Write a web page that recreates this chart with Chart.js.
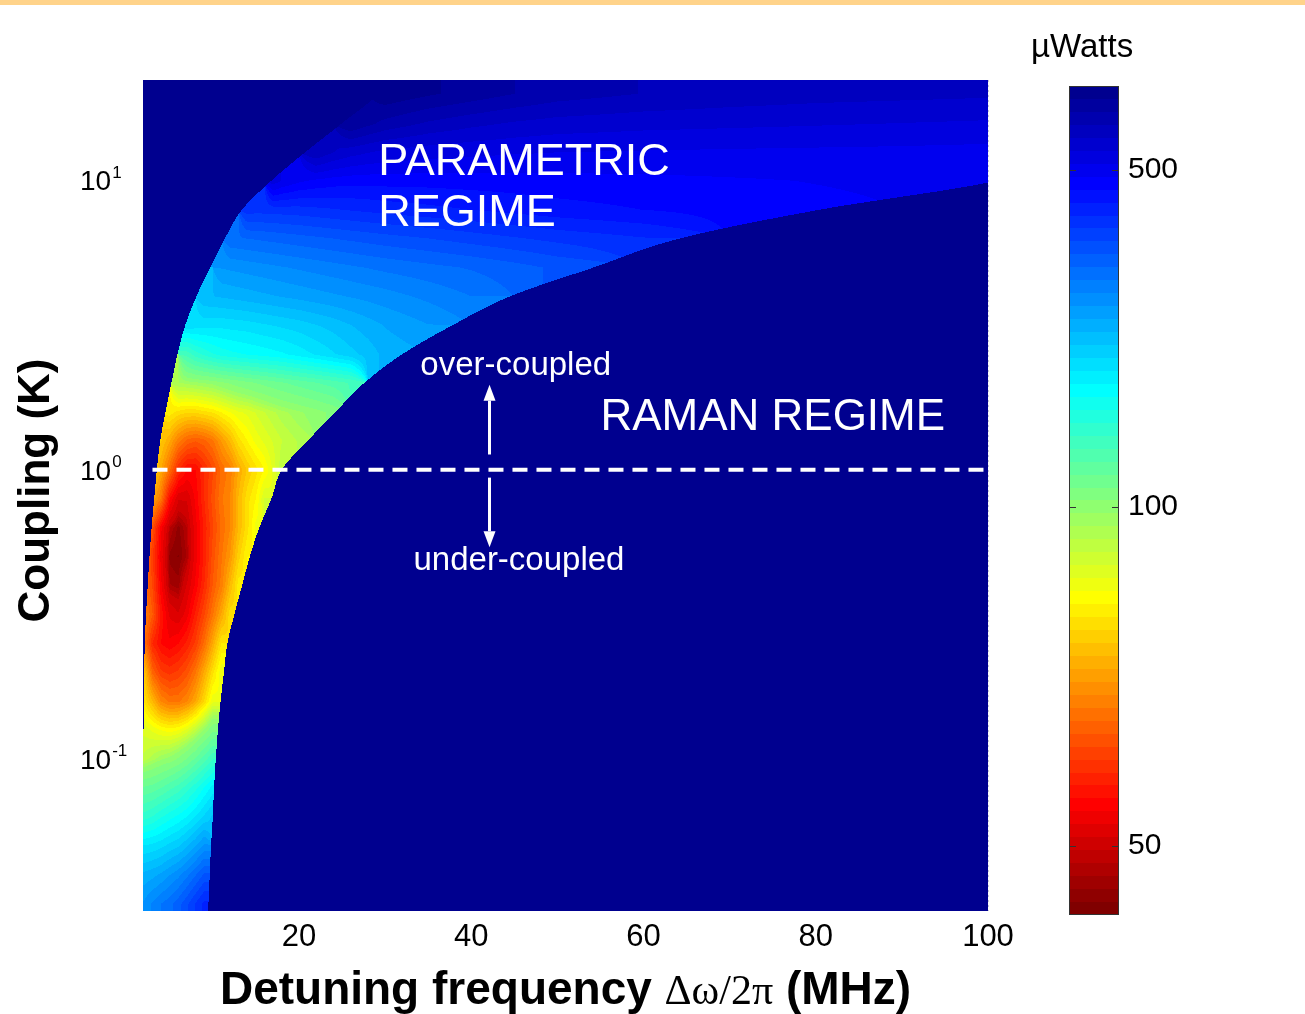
<!DOCTYPE html>
<html>
<head>
<meta charset="utf-8">
<title>Threshold map</title>
<script src="https://cdn.jsdelivr.net/npm/chart.js@4.4.1/dist/chart.umd.min.js"></script>
<style>
  html, body { margin: 0; padding: 0; background: #fff; }
  .page { position: relative; width: 1305px; height: 1014px; overflow: hidden; }
  .strip { position: absolute; left: 0; top: 0; width: 1305px; height: 5px; background: #ffd38a; }
  #map { position: absolute; left: 0; top: 0; }
  #scaleBar { position: absolute; left: 1020px; top: 0; }
</style>
</head>
<body>
<div class="page">
  <canvas id="map" width="1040" height="1014" style="width:1040px;height:1014px"></canvas>
  <canvas id="scaleBar" width="285" height="1014" style="width:285px;height:1014px"></canvas>
  <div class="strip"></div>
</div>
<script>
const SANS = '"Liberation Sans", Arial, sans-serif';
const off = n => Array(n).fill(null);

// grid columns / rows
const detuningMHz = [2,3,4,5,6,7,8,9,10,11,12,13,14,15,16,17,18,20,22,24,26,28,30,35,40,45,50,60,70,80,90,100];
const couplingK = [0.0316,0.0398,0.0501,0.0631,0.0794,0.1,0.126,0.158,0.2,0.251,0.316,0.398,0.501,0.631,0.794,1,1.26,1.58,2,2.51,3.16,3.98,5.01,6.31,7.94,10,12.6,15.8,20];

// threshold power in µW, one row per couplingK, columns follow detuningMHz
// null = off the colour scale (dark blue)
const thresholdMicroW = [
  [264,280,295,306,325,350,380,410],
  [235,240,248,260,272,290,312,338],
  [192,195,200,208,215,228,245,265],
  [145,150,158,165,172,180,192,206,220],
  [118,120,124,130,136,145,156,170,185],
  [92,95,98,100,104,110,118,128,140],
  [88,86,84,83,84,87,92,99,108],
  [80,74,68,66,66,68,72,78,86],
  [76,64,60,59,60,62,66,72,79,86],
  [66,58,55,54,55,57,60,65,72,80],
  [68,63,56,52,51,53,57,61,66,72,79],
  [66,61,54,49,48.7,51,54,58,63,67,74,81],
  [66,60,53,48.3,48,49,53,57,62,66,70,77,82],
  [68,62,54,49.4,48.3,49.4,53,57,61,65,68,74,79,85],
  [null,72,66,55,51,51,54,58,62,66,68,74,79,82,89],
  [null,78,72,65,58,55,55,58,61,65,67,72,76,79,82,87,93],
  [...off(2),76,72,67,64,63,64,66,70,74,79,82,85,87,89,91,94],
  [...off(3),81,79,78,78,79,80,82,84,86,87,89,91,93,95,98,101,105],
  [...off(4),96,97,98,99,100,102,104,106,108,110,112,114,116,120,124,128,133],
  [...off(5),135,145,152,158,163,166,168,170,172,174,176,178,185,193,202,212,222,235],
  [...off(5),200,198,196,195,195,196,197,198,200,202,204,206,210,216,222,230,238,246,260],
  [...off(7),228,230,232,234,236,238,240,242,244,246,250,254,258,262,266,270,282,295],
  [...off(9),262,264,266,268,270,272,274,276,280,284,288,292,296,300,308,316,326,338],
  [...off(10),310,312,314,316,318,320,322,326,330,334,338,342,346,355,365,375,385,400],
  [...off(12),390,388,388,388,390,392,396,400,404,408,412,420,428,436,444,455,465,475],
  [...off(15),540,515,490,478,470,466,465,466,466,468,470,472,475,480,485,490,495],
  [...off(18),640,600,575,560,548,535,528,522,518,515,512,510,508,505],
  [...off(20),740,705,675,635,610,592,580,570,565,560,555,550],
  [...off(22),785,750,720,690,665,640,625,615,610,605]
];

// band edges per couplingK row (MHz): outer (parametric side) and Raman cut-off
const outerEdgeMHz = [1,1,1,1,1,1,1.95,2.0,2.05,2.1,2.25,2.45,2.65,2.9,3.2,3.5,3.9,4.5,5.2,5.9,6.8,8.1,9.7,11.4,13.4,16.8,20.8,25,29];
const ramanEdgeMHz = [9.5,9.65,9.8,10.0,10.15,10.35,10.6,10.9,11.3,11.7,12.5,13.4,14.3,15.4,16.8,18.0,21.0,24.2,27.6,32.0,37.8,44.5,54.2,64.2,80.5,101,110,110,110];

const criticalK = 1;
const criticalLineMHz = [3, 100];
const xTickValues = [20, 40, 60, 80, 100];
const yTickValues = [0.1, 1, 10];

// colour bar
const cbarTicks = [50, 100, 500];
const cbarLevels = [47.6, 50, 100, 500, 796];
const cbarStops = [0, 0.0836, 0.492, 0.899, 1];

// matlab jet(64)
const jetLut = [];
(function () {
  const u = k => k < 1 ? 0 : k <= 16 ? k / 16 : k <= 31 ? 1 : k <= 47 ? (48 - k) / 16 : 0;
  for (let i = 1; i <= 64; i++) {
    jetLut.push([u(i - 24), u(i - 8), u(i + 8)].map(c => Math.round(c * 255)));
  }
})();

function levelPos(v) {
  if (v <= cbarLevels[0]) return 0;
  for (let i = 1; i < cbarLevels.length; i++) {
    if (v <= cbarLevels[i]) {
      const f = Math.log(v / cbarLevels[i - 1]) / Math.log(cbarLevels[i] / cbarLevels[i - 1]);
      return cbarStops[i - 1] + f * (cbarStops[i] - cbarStops[i - 1]);
    }
  }
  return 1;
}
const indexForPos = t => Math.max(0, Math.min(63, Math.floor((1 - t) * 64)));
const colourIndex = v => v == null ? 0 : indexForPos(levelPos(v));

const rowLog = couplingK.map(k => Math.log10(k));

function bracket(list, v) {
  const n = list.length - 1;
  if (v <= list[0]) return [0, 0];
  if (v >= list[n]) return [n - 1, 1];
  let i = 0;
  while (list[i + 1] < v) i++;
  return [i, (v - list[i]) / (list[i + 1] - list[i])];
}

// smooth edge curve between rows (catmull-rom)
function edgeAt(list, r, t) {
  const n = list.length - 1;
  const p0 = list[Math.max(r - 1, 0)], p1 = list[r], p2 = list[r + 1], p3 = list[Math.min(r + 2, n)];
  return 0.5 * (2 * p1 + (p2 - p0) * t + (2 * p0 - 5 * p1 + 4 * p2 - p3) * t * t + (3 * p1 - p0 - 3 * p2 + p3) * t * t * t);
}

function cell(r, c) {
  const v = thresholdMicroW[r][c];
  return v == null ? null : v;
}

function nearestInRow(r, c) {
  const row = thresholdMicroW[r];
  for (let d = 0; d < detuningMHz.length; d++) {
    if (row[c - d] != null) return row[c - d];
    if (row[c + 1 + d] != null) return row[c + 1 + d];
  }
  return null;
}

function blend(r, fr, c, fc) {
  let s = 0, ws = 0, v, w;
  v = cell(r, c);         w = (1 - fr) * (1 - fc); if (v != null && w > 0) { s += w * Math.log(v); ws += w; }
  v = cell(r, c + 1);     w = (1 - fr) * fc;       if (v != null && w > 0) { s += w * Math.log(v); ws += w; }
  v = cell(r + 1, c);     w = fr * (1 - fc);       if (v != null && w > 0) { s += w * Math.log(v); ws += w; }
  v = cell(r + 1, c + 1); w = fr * fc;             if (v != null && w > 0) { s += w * Math.log(v); ws += w; }
  if (ws > 0) return Math.exp(s / ws);
  const near = fr < 0.5 ? r : r + 1, far = fr < 0.5 ? r + 1 : r;
  return nearestInRow(near, c) ?? nearestInRow(far, c);
}

const heatLayer = {
  id: 'heatLayer',
  beforeDatasetsDraw(chart) {
    const { ctx, chartArea: a, scales: { x, y } } = chart;
    const left = Math.round(a.left), top = Math.round(a.top);
    const w = Math.round(a.right) - left, h = Math.round(a.bottom) - top;
    const img = ctx.createImageData(w, h);
    const cols = [];
    for (let i = 0; i < w; i++) {
      const mhz = x.getValueForPixel(left + i + 0.5);
      cols.push([mhz, ...bracket(detuningMHz, mhz)]);
    }
    for (let j = 0; j < h; j++) {
      const logK = Math.log10(y.getValueForPixel(top + j + 0.5));
      const [r, fr] = bracket(rowLog, logK);
      const lo = edgeAt(outerEdgeMHz, r, fr);
      const hi = edgeAt(ramanEdgeMHz, r, fr);
      for (let i = 0; i < w; i++) {
        const [mhz, c, fc] = cols[i];
        const v = (mhz < lo || mhz > hi) ? null : blend(r, fr, c, fc);
        const rgb = jetLut[colourIndex(v)];
        const k = (j * w + i) * 4;
        img.data[k] = rgb[0];
        img.data[k + 1] = rgb[1];
        img.data[k + 2] = rgb[2];
        img.data[k + 3] = 255;
      }
    }
    ctx.putImageData(img, left, top);
  }
};

const regionLabels = [
  { text: 'PARAMETRIC', mhz: 29.2, k: 10.5, size: 45 },
  { text: 'REGIME', mhz: 29.2, k: 6.99, size: 45 },
  { text: 'RAMAN REGIME', mhz: 55.0, k: 1.375, size: 44 },
  { text: 'over-coupled', mhz: 34.1, k: 2.13, size: 33 },
  { text: 'under-coupled', mhz: 33.3, k: 0.451, size: 33 }
];
const arrowMHz = 42.1;
const upArrowK = [1.13, 1.97];
const downArrowK = [0.94, 0.54];

function drawArrow(ctx, px, y0, y1) {
  const dir = Math.sign(y1 - y0), head = 16;
  ctx.beginPath();
  ctx.moveTo(px, y0);
  ctx.lineTo(px, y1 - dir * head);
  ctx.stroke();
  ctx.beginPath();
  ctx.moveTo(px, y1);
  ctx.lineTo(px - 6, y1 - dir * head);
  ctx.lineTo(px + 6, y1 - dir * head);
  ctx.closePath();
  ctx.fill();
}

const overlay = {
  id: 'overlay',
  afterDraw(chart) {
    const { ctx, chartArea: a, scales: { x, y } } = chart;
    ctx.save();

    // labels inside the map
    ctx.fillStyle = '#fff';
    ctx.textAlign = 'left';
    ctx.textBaseline = 'alphabetic';
    regionLabels.forEach(l => {
      ctx.font = `${l.size}px ${SANS}`;
      ctx.fillText(l.text, x.getPixelForValue(l.mhz), y.getPixelForValue(l.k));
    });
    ctx.strokeStyle = '#fff';
    ctx.lineWidth = 3;
    const ax = Math.round(x.getPixelForValue(arrowMHz)) + 0.5;
    drawArrow(ctx, ax, y.getPixelForValue(upArrowK[0]), y.getPixelForValue(upArrowK[1]));
    drawArrow(ctx, ax, y.getPixelForValue(downArrowK[0]), y.getPixelForValue(downArrowK[1]));

    // dotted right edge
    ctx.strokeStyle = '#c8c8d8';
    ctx.lineWidth = 1;
    ctx.setLineDash([2, 3]);
    ctx.beginPath();
    ctx.moveTo(a.right + 0.5, a.top);
    ctx.lineTo(a.right + 0.5, a.bottom);
    ctx.stroke();
    ctx.setLineDash([]);

    // y tick labels 10^n
    ctx.fillStyle = '#000';
    yTickValues.forEach(v => {
      const py = y.getPixelForValue(v);
      const exp = String(Math.round(Math.log10(v)));
      ctx.font = `28px ${SANS}`;
      ctx.textBaseline = 'middle';
      ctx.fillText('10', 80, py + 2);
      const bw = ctx.measureText('10').width;
      ctx.font = `17px ${SANS}`;
      ctx.textBaseline = 'alphabetic';
      ctx.fillText(exp, 80 + bw + 1, py - 3);
    });

    // y title
    ctx.save();
    ctx.translate(37, (a.top + a.bottom) / 2 - 5);
    ctx.rotate(-Math.PI / 2);
    ctx.font = `bold 44px ${SANS}`;
    ctx.textAlign = 'center';
    ctx.textBaseline = 'middle';
    ctx.fillText('Coupling (K)', 0, 0);
    ctx.restore();

    // x title, mixed fonts
    const parts = [
      { t: 'Detuning frequency ', f: `bold 46px ${SANS}` },
      { t: '\u0394\u03c9/2\u03c0', f: `42px "Liberation Serif", "Times New Roman", serif` },
      { t: ' (MHz)', f: `bold 46px ${SANS}` }
    ];
    let total = 0;
    parts.forEach(p => { ctx.font = p.f; p.w = ctx.measureText(p.t).width; total += p.w; });
    let tx = (a.left + a.right) / 2 - total / 2;
    ctx.textAlign = 'left';
    ctx.textBaseline = 'alphabetic';
    parts.forEach(p => { ctx.font = p.f; ctx.fillText(p.t, tx, 1004); tx += p.w; });

    ctx.restore();
  }
};

new Chart(document.getElementById('map'), {
  type: 'scatter',
  data: {
    datasets: [{
      data: criticalLineMHz.map(mhz => ({ x: mhz, y: criticalK })),
      showLine: true,
      borderColor: '#ffffff',
      borderWidth: 4,
      borderDash: [15, 9],
      borderCapStyle: 'butt',
      pointRadius: 0
    }]
  },
  options: {
    responsive: false,
    animation: false,
    layout: { padding: { top: 80, right: 52, left: 0, bottom: 0 } },
    plugins: { legend: { display: false }, tooltip: { enabled: false } },
    scales: {
      x: {
        type: 'linear',
        min: 1.9,
        max: 100,
        afterBuildTicks: s => { s.ticks = xTickValues.map(value => ({ value })); },
        afterFit: s => { s.height = 103; },
        grid: { display: false, drawTicks: false },
        border: { display: false },
        ticks: { autoSkip: false, maxRotation: 0, padding: 8, color: '#000', font: { family: SANS, size: 31 } }
      },
      y: {
        type: 'logarithmic',
        min: 0.0298,
        max: 22.3,
        afterFit: s => { s.width = 143; },
        grid: { display: false, drawTicks: false },
        border: { display: false },
        ticks: { display: false }
      }
    }
  },
  plugins: [heatLayer, overlay]
});

const barPainter = {
  id: 'barPainter',
  afterDraw(chart) {
    const { ctx, chartArea: a, scales: { y } } = chart;
    ctx.save();
    for (let py = Math.round(a.top); py < Math.round(a.bottom); py++) {
      const c = jetLut[indexForPos(y.getValueForPixel(py + 0.5))];
      ctx.fillStyle = `rgb(${c[0]},${c[1]},${c[2]})`;
      ctx.fillRect(a.left, py, a.right - a.left, 1);
    }
    ctx.strokeStyle = '#333';
    ctx.lineWidth = 1;
    ctx.strokeRect(a.left + 0.5, a.top + 0.5, a.right - a.left - 1, a.bottom - a.top - 1);
    y.ticks.forEach(tk => {
      const py = Math.round(y.getPixelForValue(tk.value)) + 0.5;
      ctx.beginPath();
      ctx.moveTo(a.left, py); ctx.lineTo(a.left + 7, py);
      ctx.moveTo(a.right - 7, py); ctx.lineTo(a.right, py);
      ctx.stroke();
    });
    ctx.fillStyle = '#000';
    ctx.font = `33px ${SANS}`;
    ctx.textAlign = 'left';
    ctx.textBaseline = 'alphabetic';
    ctx.fillText('\u00b5Watts', 11, 57);
    ctx.restore();
  }
};

new Chart(document.getElementById('scaleBar'), {
  type: 'scatter',
  data: { datasets: [] },
  options: {
    responsive: false,
    animation: false,
    layout: { padding: { left: 49, top: 86, bottom: 99, right: 0 } },
    plugins: { legend: { display: false }, tooltip: { enabled: false } },
    scales: {
      x: { display: false, min: 0, max: 1 },
      y: {
        position: 'right',
        min: 0,
        max: 1,
        afterBuildTicks: s => { s.ticks = cbarTicks.map(v => ({ value: levelPos(v) })); },
        afterFit: s => { s.width = 186; },
        grid: { display: false, drawTicks: false },
        border: { display: false },
        ticks: {
          padding: 9,
          color: '#000',
          font: { family: SANS, size: 30 },
          callback: (val, i) => String(cbarTicks[i])
        }
      }
    }
  },
  plugins: [barPainter]
});
</script>
</body>
</html>
